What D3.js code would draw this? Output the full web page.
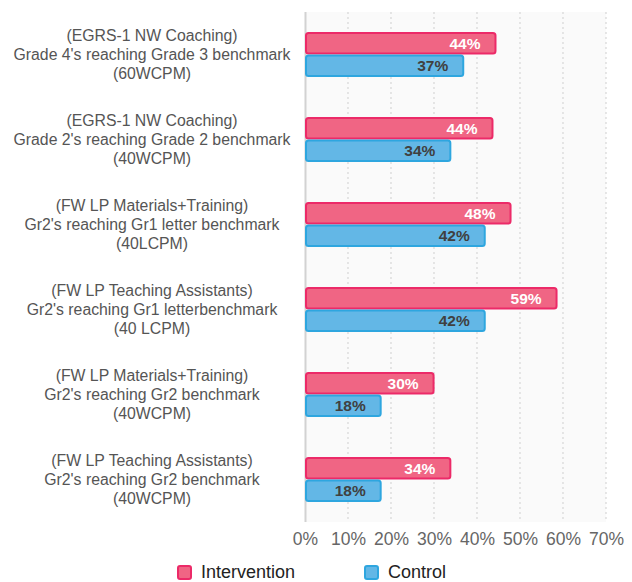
<!DOCTYPE html>
<html>
<head>
<meta charset="utf-8">
<script src="https://cdn.jsdelivr.net/npm/d3@7"></script>
<style>
  body { margin: 0; background: #fff; }
  svg { font-family: "Liberation Sans", Arial, Helvetica, sans-serif; }
</style>
</head>
<body>
<div id="chart"></div>
<script>
// category labels, each one is three lines
var categories = [
	["(EGRS-1 NW Coaching)", "Grade 4's reaching Grade 3 benchmark", "(60WCPM)"],
	["(EGRS-1 NW Coaching)", "Grade 2's reaching Grade 2 benchmark", "(40WCPM)"],
	["(FW LP Materials+Training)", "Gr2's reaching Gr1 letter benchmark", "(40LCPM)"],
	["(FW LP Teaching Assistants)", "Gr2's reaching Gr1 letterbenchmark", "(40 LCPM)"],
	["(FW LP Materials+Training)", "Gr2's reaching Gr2 benchmark", "(40WCPM)"],
	["(FW LP Teaching Assistants)", "Gr2's reaching Gr2 benchmark", "(40WCPM)"]
];
var intervention = [0.443, 0.436, 0.478, 0.585, 0.299, 0.338];
var control = [0.368, 0.338, 0.418, 0.418, 0.176, 0.176];
var xTicks = [0, 0.1, 0.2, 0.3, 0.4, 0.5, 0.6, 0.7];
var seriesNames = ["Intervention", "Control"];

var colors = {
	Intervention: {fill: "#f06584", stroke: "#ec2a68", text: "#ffffff"},
	Control: {fill: "#63b7e6", stroke: "#2ea6df", text: "#404040"}
};

var W = 632, H = 582;
var margin = {top: 12, right: 26, bottom: 60, left: 305};
var width = W - margin.left - margin.right,
    height = H - margin.top - margin.bottom;

var svg = d3.select("#chart").append("svg")
	.attr("width", W)
	.attr("height", H);

var g = svg.append("g")
	.attr("transform", "translate(" + margin.left + "," + margin.top + ")");

var x = d3.scaleLinear().domain([0, 0.7]).range([0, 301]);
var y0 = d3.scaleBand().domain(d3.range(categories.length)).range([0, height]).paddingInner(0).paddingOuter(0);
var y1 = d3.scaleBand().domain(seriesNames).range([y0.bandwidth() / 2 - 21.5, y0.bandwidth() / 2 + 21.5]).paddingInner(0.08);

// plot background
g.append("rect")
	.attr("x", 0).attr("y", 0)
	.attr("width", width).attr("height", height)
	.attr("fill", "#fafafa");

// dotted grid
g.selectAll(".grid").data(xTicks.slice(1))
	.enter().append("line")
	.attr("x1", function(d) { return x(d); })
	.attr("x2", function(d) { return x(d); })
	.attr("y1", 0).attr("y2", height)
	.attr("stroke", "#cfcfcf")
	.attr("stroke-width", 1)
	.attr("stroke-dasharray", "2,3");

// axis line at zero
g.append("line")
	.attr("x1", 0.5).attr("x2", 0.5)
	.attr("y1", 0).attr("y2", height)
	.attr("stroke", "#d2d2d2")
	.attr("stroke-width", 2);

// x axis labels
var xAxis = d3.axisBottom(x).tickValues(xTicks).tickFormat(d3.format(".0%")).tickSize(0).tickPadding(0);
var ax = g.append("g")
	.attr("transform", "translate(0," + (height + 11) + ")")
	.call(xAxis);
ax.select(".domain").remove();
ax.selectAll("text")
	.attr("fill", "#666")
	.attr("font-size", "17.5px")
	.attr("font-family", "Liberation Sans, Arial, sans-serif");

// category labels
var labels = svg.append("g").attr("transform", "translate(152," + margin.top + ")");
categories.forEach(function(lines, i) {
	var t = labels.append("text")
		.attr("text-anchor", "middle")
		.attr("fill", "#555")
		.attr("font-size", "15.8px");
	lines.forEach(function(line, j) {
		t.append("tspan")
			.attr("x", 0)
			.attr("y", y0(i) + y0.bandwidth() / 2 + (j - 1) * 19 + 5.5)
			.text(line);
	});
});

// bars
var rows = categories.map(function(c, i) {
	return [{s: "Intervention", v: intervention[i]}, {s: "Control", v: control[i]}];
});

var groups = g.selectAll(".grp").data(rows)
	.enter().append("g")
	.attr("transform", function(d, i) { return "translate(0," + y0(i) + ")"; });

groups.selectAll("rect").data(function(d) { return d; })
	.enter().append("rect")
	.attr("x", 1)
	.attr("y", function(d) { return y1(d.s); })
	.attr("width", function(d) { return x(d.v) - 1; })
	.attr("height", y1.bandwidth())
	.attr("rx", 2.5)
	.attr("fill", function(d) { return colors[d.s].fill; })
	.attr("stroke", function(d) { return colors[d.s].stroke; })
	.attr("stroke-width", 2);

groups.selectAll(".val").data(function(d) { return d; })
	.enter().append("text")
	.attr("x", function(d) { return x(d.v) - 15; })
	.attr("y", function(d) { return y1(d.s) + y1.bandwidth() / 2 + 5.5; })
	.attr("text-anchor", "end")
	.attr("font-weight", "bold")
	.attr("font-size", "15.5px")
	.attr("fill", function(d) { return colors[d.s].text; })
	.text(function(d) { return Math.round(d.v * 100) + "%"; });

// legend
var legendX = [177, 364];
var legend = svg.selectAll(".legend").data(seriesNames)
	.enter().append("g")
	.attr("transform", function(d, i) { return "translate(" + legendX[i] + ",565)"; });

legend.append("rect")
	.attr("x", 1).attr("y", 1)
	.attr("width", 13).attr("height", 13)
	.attr("rx", 2)
	.attr("fill", function(d) { return colors[d].fill; })
	.attr("stroke", function(d) { return colors[d].stroke; })
	.attr("stroke-width", 2);

legend.append("text")
	.attr("x", 24)
	.attr("y", 13)
	.attr("font-size", "18px")
	.attr("fill", "#222")
	.text(function(d) { return d; });
</script>
</body>
</html>
